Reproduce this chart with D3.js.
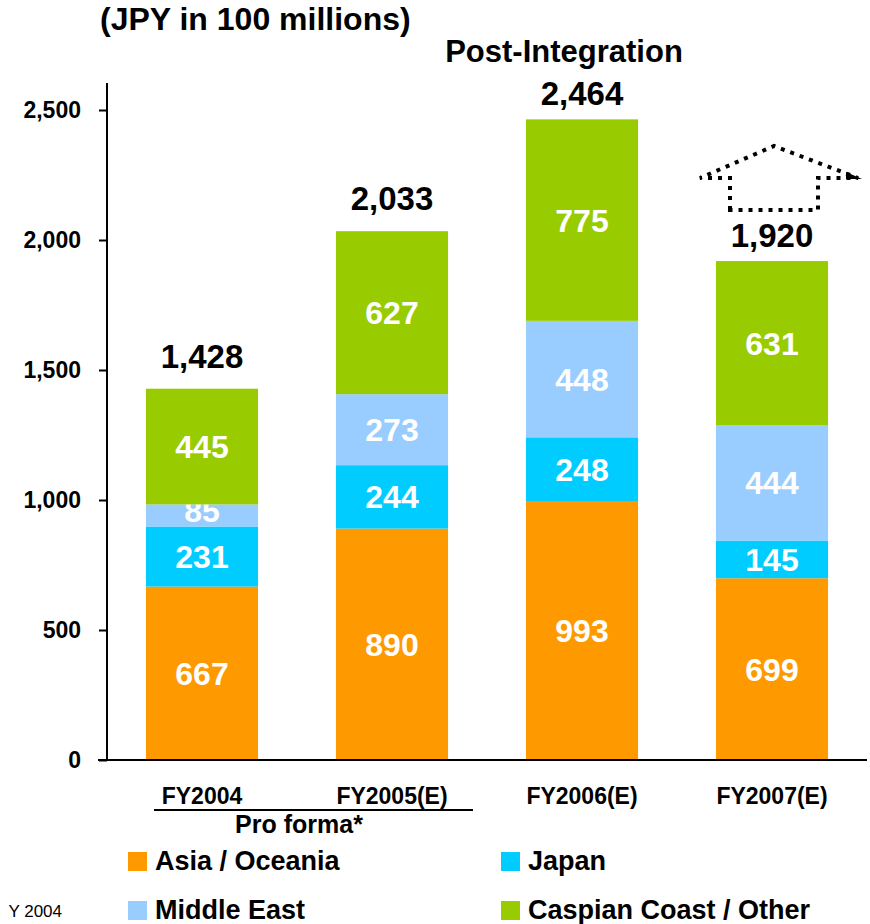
<!DOCTYPE html>
<html>
<head>
<meta charset="utf-8">
<script src="https://cdn.jsdelivr.net/npm/d3@7"></script>
<style>
  body { margin: 0; background: #fff; }
  svg text { font-family: "Liberation Sans", Arial, sans-serif; font-weight: bold; }
</style>
</head>
<body>
<svg id="chart" width="870" height="924"></svg>
<script>
// data
const years = ["FY2004", "FY2005(E)", "FY2006(E)", "FY2007(E)"];
const seriesNames = ["Asia / Oceania", "Japan", "Middle East", "Caspian Coast / Other"];
const asiaOceania = [667, 890, 993, 699];
const japan = [231, 244, 248, 145];
const middleEast = [85, 273, 448, 444];
const caspianOther = [445, 627, 775, 631];
const totals = [1428, 2033, 2464, 1920];
const yTicks = [0, 500, 1000, 1500, 2000, 2500];
const colors = ["#ff9900", "#00ccff", "#99ccff", "#99cc00"];

const svg = d3.select("#chart");

const x = d3.scaleBand()
  .domain(years)
  .range([107, 867])
  .paddingInner(0.41)
  .paddingOuter(0.205);

const y = d3.scaleLinear()
  .domain([0, 2500])
  .range([760, 110]);

// rows for the stack
const rows = years.map((yr, i) => ({
  year: yr,
  [seriesNames[0]]: asiaOceania[i],
  [seriesNames[1]]: japan[i],
  [seriesNames[2]]: middleEast[i],
  [seriesNames[3]]: caspianOther[i],
}));
const stacked = d3.stack().keys(seriesNames)(rows);

// bars
const layers = svg.append("g")
  .selectAll("g")
  .data(stacked)
  .enter()
  .append("g")
  .attr("fill", (d, i) => colors[i]);

layers.selectAll("rect")
  .data(d => d)
  .enter()
  .append("rect")
  .attr("x", d => x(d.data.year))
  .attr("y", d => y(d[1]))
  .attr("width", x.bandwidth())
  .attr("height", d => y(d[0]) - y(d[1]));

// values inside segments
layers.selectAll("text")
  .data(d => d.map(s => ({ s, v: s[1] - s[0] })))
  .enter()
  .append("text")
  .attr("x", d => x(d.s.data.year) + x.bandwidth() / 2)
  .attr("y", d => (y(d.s[0]) + y(d.s[1])) / 2 - (d.v < 120 ? 5 : 0))
  .attr("dy", "0.36em")
  .attr("text-anchor", "middle")
  .attr("fill", "#fff")
  .style("font-size", "32px")
  .text(d => d.v);

// totals on top
svg.append("g")
  .selectAll("text")
  .data(totals)
  .enter()
  .append("text")
  .attr("x", (d, i) => x(years[i]) + x.bandwidth() / 2)
  .attr("y", (d, i) => y(d3.sum(stacked, l => l[i][1] - l[i][0])) - (i < 2 ? 21 : 14))
  .attr("text-anchor", "middle")
  .attr("fill", "#000")
  .style("font-size", "33px")
  .text(d => d3.format(",")(d));

// y axis
const yAxis = svg.append("g")
  .attr("transform", "translate(107,0)")
  .call(d3.axisLeft(y).tickValues(yTicks).tickFormat(d3.format(",")).tickSize(8).tickPadding(18));
yAxis.select(".domain").attr("d", "M0,83V760").attr("stroke", "#000").attr("stroke-width", 2);
yAxis.selectAll(".tick line").attr("stroke", "#000").attr("stroke-width", 2);
yAxis.selectAll(".tick text")
  .attr("fill", "#000")
  .style("font-size", "23px")
  .style("font-family", "'Liberation Sans', Arial, sans-serif")
  .style("font-weight", "bold");

// x axis
const xAxis = svg.append("g")
  .attr("transform", "translate(0,760)")
  .call(d3.axisBottom(x).tickSize(0).tickPadding(28));
xAxis.select(".domain").attr("d", "M98,0H867").attr("stroke", "#000").attr("stroke-width", 2);
xAxis.selectAll(".tick text")
  .attr("fill", "#000")
  .style("font-size", "23px")
  .style("font-family", "'Liberation Sans', Arial, sans-serif")
  .style("font-weight", "bold");

// pro forma bracket
svg.append("line")
  .attr("x1", 154).attr("x2", 473)
  .attr("y1", 810).attr("y2", 810)
  .attr("stroke", "#000").attr("stroke-width", 2);
svg.append("text")
  .attr("x", 299).attr("y", 833)
  .attr("text-anchor", "middle")
  .style("font-size", "25px")
  .text("Pro forma*");

// titles
svg.append("text")
  .attr("x", 100).attr("y", 30)
  .style("font-size", "32px")
  .text("(JPY in 100 millions)");
svg.append("text")
  .attr("x", 564).attr("y", 62)
  .attr("text-anchor", "middle")
  .style("font-size", "31px")
  .text("Post-Integration");

// dotted up arrow over FY2007
svg.append("path")
  .attr("d", "M730,210 L730,178 L700,178 L774,146 L858,178 L818,178 L818,210 Z")
  .attr("fill", "none")
  .attr("stroke", "#000")
  .attr("stroke-width", 4)
  .attr("stroke-dasharray", "4,6");
svg.append("path")
  .attr("d", "M846,172 L862,179 L846,179 Z")
  .attr("fill", "#000");

// legend
const legendPos = [[128, 852], [501, 852], [128, 901], [501, 901]];
const legend = svg.append("g")
  .selectAll("g")
  .data(seriesNames)
  .enter()
  .append("g")
  .attr("transform", (d, i) => `translate(${legendPos[i][0]},${legendPos[i][1]})`);
legend.append("rect")
  .attr("width", 19).attr("height", 19)
  .attr("fill", (d, i) => colors[i]);
legend.append("text")
  .attr("x", 27).attr("y", 18)
  .style("font-size", "27px")
  .text(d => d);

// footnote fragment at the left edge
svg.append("text")
  .attr("x", 62).attr("y", 917)
  .attr("text-anchor", "end")
  .style("font-weight", "normal")
  .style("font-size", "17px")
  .text("Y 2004");
</script>
</body>
</html>
